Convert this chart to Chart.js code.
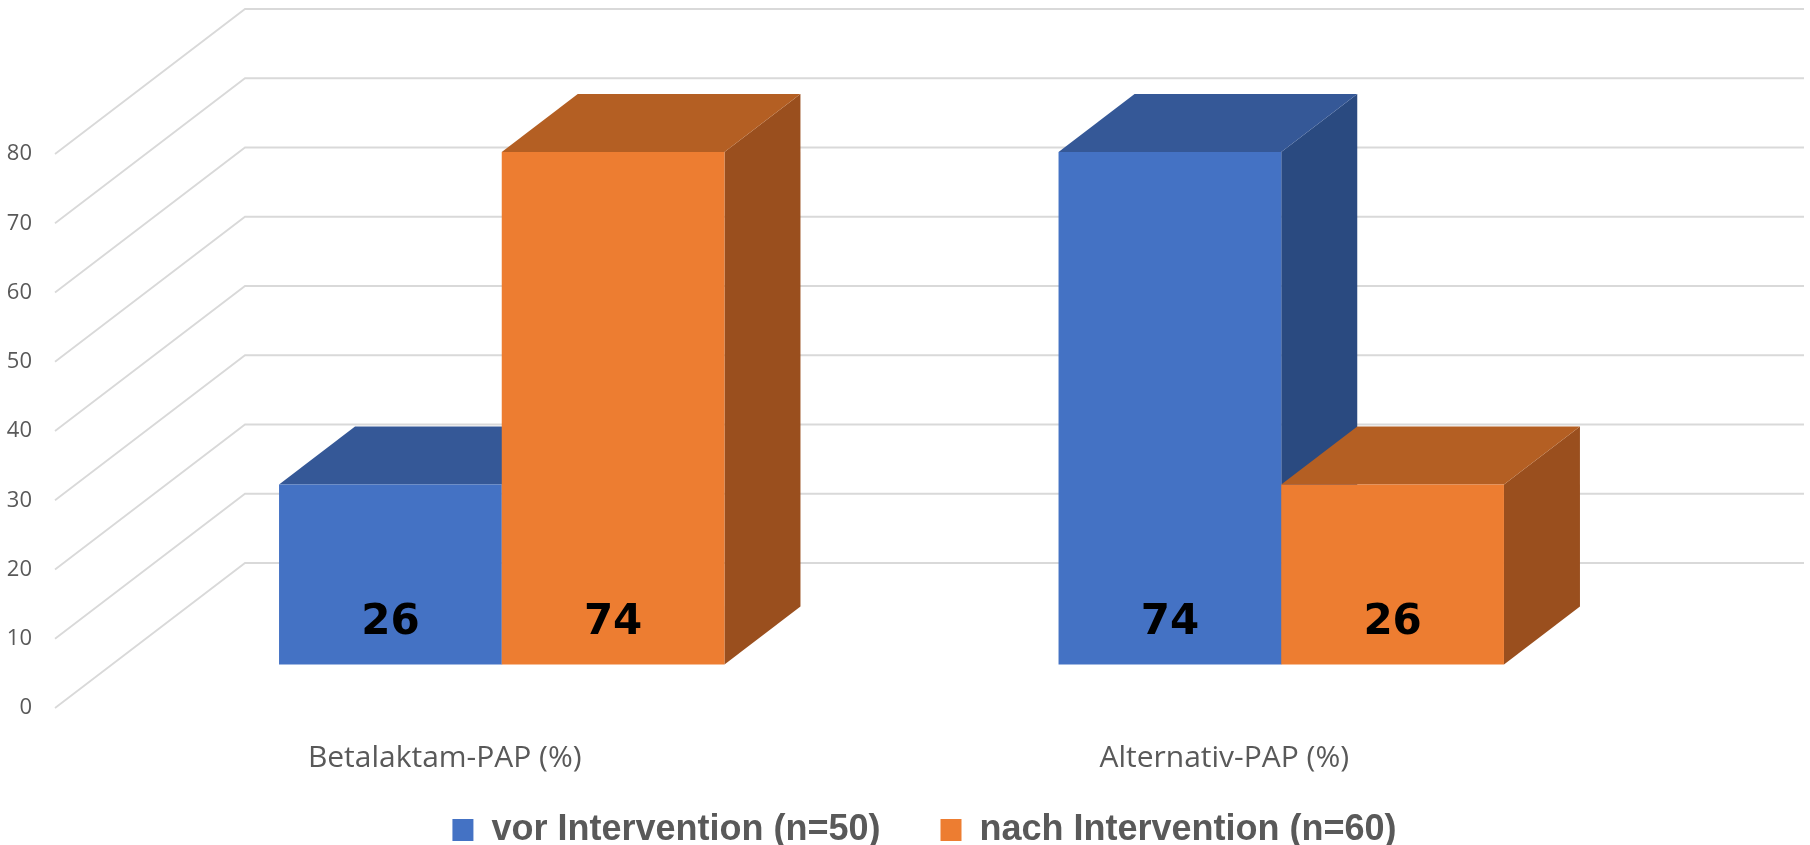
<!DOCTYPE html>
<html>
<head>
<meta charset="utf-8">
<script src="https://cdn.jsdelivr.net/npm/chart.js@4"></script>
<style>
  html, body { margin: 0; padding: 0; background: #ffffff; }
  canvas { display: block; }
</style>
</head>
<body>
<canvas id="c" width="1810" height="845"></canvas>
<script>
// ---- data ----
const categories = ['Betalaktam-PAP (%)', 'Alternativ-PAP (%)'];
const seriesNames = ['vor Intervention (n=50)', 'nach Intervention (n=60)'];
const vorValues = [26, 74];
const nachValues = [74, 26];
const yMin = 0;
const yMax = 80;
const yStep = 10;

// ---- styling ----
const frontColors = ['#4472C4', '#ED7D31'];
const faceColors = [
  { top: '#355897', side: '#2A4A80' },
  { top: '#B45F23', side: '#9A4F1E' }
];
// oblique projection of the depth axis (back wall offset) and bar placement within depth
const WALL = { x: 190, y: 145 };
const BAR_FRONT = 0.3;
const BAR_DEPTH = 0.4;

const bars3d = {
  id: 'bars3d',
  beforeDatasetsDraw(chart) {
    const { ctx, chartArea: ca, scales } = chart;
    const ys = scales.y;
    // floor diagonals + back wall gridlines
    ctx.save();
    ctx.strokeStyle = '#D9D9D9';
    ctx.lineWidth = 1.8;
    ys.ticks.forEach(t => {
      const py = ys.getPixelForValue(t.value);
      ctx.beginPath();
      ctx.moveTo(ca.left, py);
      ctx.lineTo(ca.left + WALL.x, py - WALL.y);
      ctx.lineTo(ca.right + WALL.x, py - WALL.y);
      ctx.stroke();
    });
    ctx.restore();

    // bars, painted left to right so nearer faces cover hidden ones
    const items = [];
    chart.data.datasets.forEach((ds, di) => {
      const meta = chart.getDatasetMeta(di);
      if (meta.hidden) return;
      meta.data.forEach((el, i) => items.push({ el, di, i }));
    });
    items.sort((a, b) => a.el.x - b.el.x);
    const fx = WALL.x * BAR_FRONT, fy = WALL.y * BAR_FRONT;
    const dx = WALL.x * BAR_DEPTH, dy = WALL.y * BAR_DEPTH;
    items.forEach(({ el, di, i }) => {
      const p = el.getProps(['x', 'y', 'base', 'width'], true);
      const l = p.x - p.width / 2, r = p.x + p.width / 2;
      const top = p.y, base = p.base;
      ctx.save();
      ctx.translate(fx, -fy);
      // side face
      ctx.fillStyle = faceColors[di].side;
      ctx.beginPath();
      ctx.moveTo(r, top);
      ctx.lineTo(r + dx, top - dy);
      ctx.lineTo(r + dx, base - dy);
      ctx.lineTo(r, base);
      ctx.closePath();
      ctx.fill();
      // top face
      ctx.fillStyle = faceColors[di].top;
      ctx.beginPath();
      ctx.moveTo(l, top);
      ctx.lineTo(l + dx, top - dy);
      ctx.lineTo(r + dx, top - dy);
      ctx.lineTo(r, top);
      ctx.closePath();
      ctx.fill();
      // front face (library bar element)
      el.draw(ctx);
      // value label
      ctx.fillStyle = '#000000';
      ctx.font = 'bold 42px "DejaVu Sans"';
      ctx.textAlign = 'center';
      ctx.textBaseline = 'middle';
      ctx.fillText(String(chart.data.datasets[di].data[i]), p.x, base - 41);
      ctx.restore();
    });
    return false;
  }
};

new Chart(document.getElementById('c'), {
  type: 'bar',
  data: {
    labels: categories,
    datasets: [
      { label: seriesNames[0], data: vorValues, backgroundColor: frontColors[0], borderWidth: 0 },
      { label: seriesNames[1], data: nachValues, backgroundColor: frontColors[1], borderWidth: 0 }
    ]
  },
  options: {
    responsive: false,
    animation: false,
    events: [],
    datasets: { bar: { barPercentage: 1, categoryPercentage: 4 / 7 } },
    layout: { padding: { top: 154, left: 0, right: -39, bottom: -13 } },
    scales: {
      x: {
        grid: { display: false, drawTicks: false },
        border: { display: false },
        ticks: { color: '#595959', font: { family: '"Open Sans"', size: 30 }, padding: 32, maxRotation: 0 },
        afterFit(s) {
          s.height = 44;
          // let the category labels extend below the (short) axis box
          s._computeLabelArea = () => undefined;
        }
      },
      y: {
        min: yMin, max: yMax,
        grid: { display: false, drawTicks: false },
        border: { display: false },
        ticks: { stepSize: yStep, color: '#595959', font: { family: '"Open Sans"', size: 22 }, padding: 23 },
        afterFit(s) { s.width = 55; }
      },
      yRight: {
        position: 'right',
        min: yMin, max: yMax,
        grid: { display: false, drawTicks: false },
        border: { display: false },
        ticks: { display: false },
        afterFit(s) { s.width = 235; }
      }
    },
    plugins: {
      tooltip: { enabled: false },
      legend: {
        position: 'bottom',
        labels: {
          boxWidth: 21,
          boxHeight: 22,
          padding: 60,
          color: '#595959',
          font: { family: '"Liberation Sans"', size: 36, weight: 'bold' }
        }
      }
    }
  },
  plugins: [bars3d]
});
</script>
</body>
</html>
